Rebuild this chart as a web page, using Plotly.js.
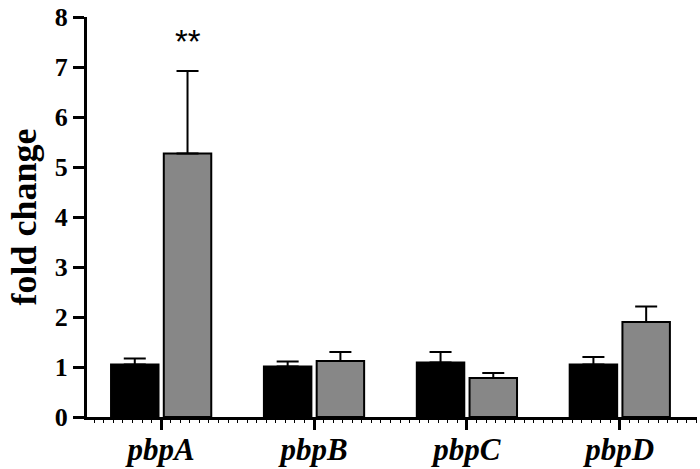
<!DOCTYPE html>
<html>
<head>
<meta charset="utf-8">
<script src="https://cdn.plot.ly/plotly-3.0.1.min.js"></script>
<style>html,body{margin:0;padding:0;background:#fff;}#chart{width:700px;height:469px;}</style>
</head>
<body>
<div id="chart"></div>
<script>
const categories = ["pbpA", "pbpB", "pbpC", "pbpD"];
const xIndex = [0, 1, 2, 3];
const controlValues = [1.05, 1.01, 1.09, 1.05];
const controlErrors = [0.12, 0.10, 0.21, 0.15];
const treatedValues = [5.27, 1.12, 0.78, 1.90];
const treatedErrors = [1.65, 0.18, 0.10, 0.31];
const zeros = [0, 0, 0, 0];
const yTicks = [0, 1, 2, 3, 4, 5, 6, 7, 8];
const significance = "**";

const serif = "Liberation Serif, Times New Roman, serif";

const traces = [
  {
    type: "bar", x: xIndex, y: controlValues, name: "control",
    marker: {color: "#000000", line: {color: "#000000", width: 2}},
    error_y: {type: "data", array: controlErrors, arrayminus: zeros, symmetric: false,
              color: "#000000", thickness: 2, width: 11}
  },
  {
    type: "bar", x: xIndex, y: treatedValues, name: "treated",
    marker: {color: "#878787", line: {color: "#000000", width: 2}},
    error_y: {type: "data", array: treatedErrors, arrayminus: zeros, symmetric: false,
              color: "#000000", thickness: 2, width: 11}
  }
];

const layout = {
  width: 700, height: 469,
  margin: {l: 87, r: 3, t: 17, b: 52},
  paper_bgcolor: "#ffffff", plot_bgcolor: "#ffffff",
  showlegend: false,
  barmode: "group", bargap: 0.31, bargroupgap: 0.1,
  xaxis: {
    range: [-0.485, 3.505], tickmode: "array", tickvals: xIndex,
    ticktext: categories.map(c => "<b><i>" + c + "</i></b>"),
    showgrid: false, zeroline: false,
    showline: true, linecolor: "#000", linewidth: 3,
    ticks: "outside", ticklen: 10, tickwidth: 3, tickcolor: "#000",
    ticklabelstandoff: -7,
    tickfont: {family: serif, size: 31, color: "#000"},
    minor: {tickmode: "linear", tick0: 0, dtick: 1/16, ticks: "outside", ticklen: 3, tickwidth: 1, tickcolor: "#000", showgrid: false}
  },
  yaxis: {
    range: [0, 8], tickmode: "array", tickvals: yTicks,
    ticktext: yTicks.map(v => "<b>" + v + "</b>"),
    showgrid: false, zeroline: false,
    showline: true, linecolor: "#000", linewidth: 3,
    ticks: "outside", ticklen: 11, tickwidth: 3, tickcolor: "#000",
    ticklabeloverflow: "allow",
    tickfont: {family: serif, size: 26, color: "#000"},
    title: {text: "<b>fold change</b>", font: {family: serif, size: 36, color: "#000"}, standoff: 8}
  },
  annotations: [{
    x: xIndex[0], y: treatedValues[0] + treatedErrors[0], xref: "x", yref: "y",
    xshift: 27, yshift: 30, text: significance, showarrow: false,
    font: {family: "Liberation Sans, Arial, sans-serif", size: 33, color: "#000"}
  }]
};

Plotly.newPlot("chart", traces, layout, {displayModeBar: false, staticPlot: true});
</script>
</body>
</html>
